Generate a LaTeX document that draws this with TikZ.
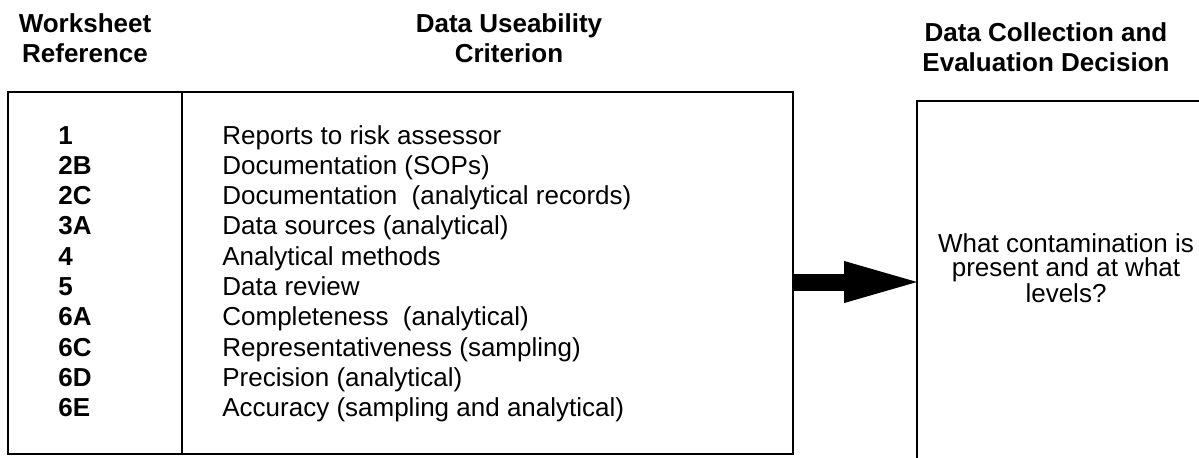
\documentclass[tikz,border=0pt]{standalone}
\usepackage{fontspec}
\setmainfont{Liberation Sans}
\usetikzlibrary{arrows.meta,positioning}
\tikzset{
    head/.style={
        align=center,inner sep=0pt,
        font=\fontsize{13}{15}\selectfont\bfseries
    },
    frame/.style={
        draw,line width=1pt,inner sep=0pt,anchor=north west
    },
    refno/.style={
        anchor=base west,inner sep=0pt,
        font=\fontsize{13}{15}\selectfont\bfseries
    },
    critline/.style={
        anchor=base west,inner sep=0pt,
        font=\fontsize{13}{15}\selectfont
    },
    bigarrow/.style={
        -{Triangle[length=41pt,width=18pt]},line width=8.5pt
    }
}

\begin{document}
\begin{tikzpicture}[x=0.5pt,y=-0.5pt]
\clip (0,0) rectangle (1199,457);

% column heads
\node[head] (wsref) at (85,38) {Worksheet\\Reference};
\node[head] (usecrit) at (509,38) {Data Useability\\Criterion};
\node[head] (decide) at (1046,47.5) {Data Collection and\\Evaluation Decision};

% table
\node[frame,minimum width=392.5pt,minimum height=181pt] (criteria) at (7,91) {};
\draw[line width=1pt] ([xshift=87.5pt]criteria.north west) -- ([xshift=87.5pt]criteria.south west);

\foreach \n/\t [count=\i from 0] in {
    1/Reports to risk assessor,
    2B/Documentation (SOPs),
    2C/Documentation\ \ (analytical records),
    3A/Data sources (analytical),
    4/Analytical methods,
    5/Data review,
    6A/Completeness\ \ (analytical),
    6C/Representativeness (sampling),
    6D/Precision (analytical),
    6E/Accuracy (sampling and analytical)}{
    \node[refno] (ref\i) at (58,{144+30.3*\i}) {\n};
    \node[critline] (crit\i) at (222,{144+30.3*\i}) {\t};
}

% decision box
\node[frame,minimum width=150pt,minimum height=190pt] (dec) at (916,100) {};
\node[align=center,inner sep=0pt,font=\fontsize{13}{12}\selectfont] (question) at (1066,268)
{What contamination is\\present and at what\\levels?};

\draw[bigarrow] ([yshift=-4.5pt]criteria.east) -- ([xshift=5pt,yshift=-4.5pt]criteria.east -| dec.west);

\end{tikzpicture}
\end{document}
